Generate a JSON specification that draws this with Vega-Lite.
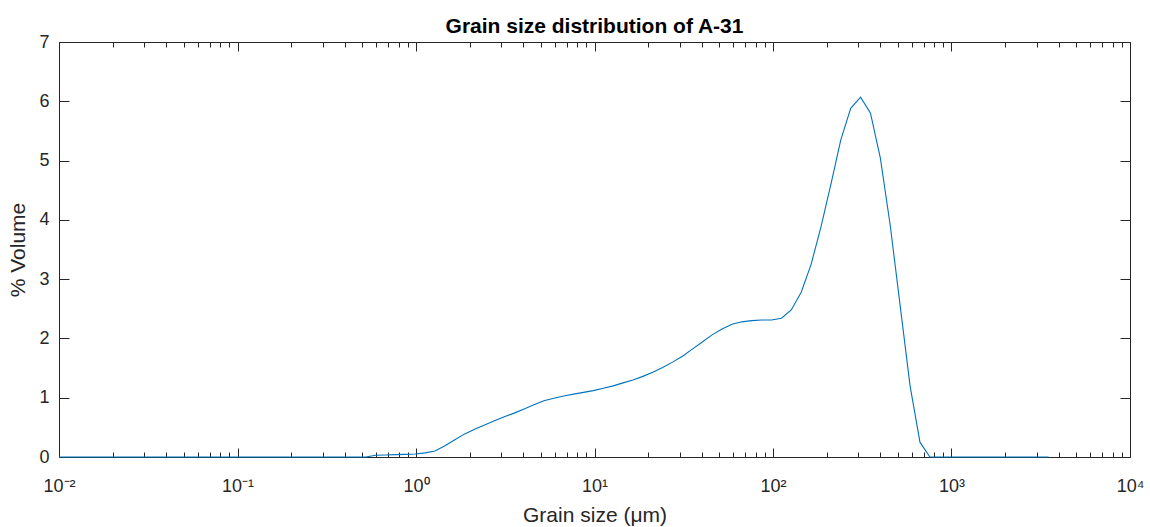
{
  "$schema": "https://vega.github.io/schema/vega-lite/v6.json",
  "width": 1071,
  "height": 415,
  "autosize": "none",
  "padding": {"left": 59, "top": 42, "right": 20, "bottom": 70},
  "background": "white",
  "config": {
    "view": {"stroke": null},
    "font": "Liberation Sans",
    "axis": {
      "grid": false,
      "domainColor": "#262626",
      "domainWidth": 1,
      "tickColor": "#262626",
      "tickWidth": 1,
      "labelColor": "#262626",
      "titleColor": "#262626",
      "labelFont": "Liberation Sans",
      "titleFont": "Liberation Sans",
      "labelFontSize": 18,
      "titleFontSize": 21,
      "titleFontWeight": "normal",
      "labelFlush": false,
      "labelOverlap": false
    }
  },
  "title": {
    "text": "Grain size distribution of A-31",
    "fontSize": 21,
    "fontWeight": "bold",
    "font": "Liberation Sans",
    "color": "#000000",
    "anchor": "middle",
    "frame": "group",
    "offset": -4
  },
  "data": {
    "values": [
      {"size": 0.01, "volume": 0},
      {"size": 0.5232, "volume": 0},
      {"size": 0.5943, "volume": 0.03},
      {"size": 0.6752, "volume": 0.035},
      {"size": 0.7674, "volume": 0.04},
      {"size": 0.8717, "volume": 0.045},
      {"size": 0.9904, "volume": 0.05},
      {"size": 1.1253, "volume": 0.07},
      {"size": 1.2787, "volume": 0.1},
      {"size": 1.4529, "volume": 0.19},
      {"size": 1.6508, "volume": 0.29},
      {"size": 1.875, "volume": 0.39},
      {"size": 2.1306, "volume": 0.47},
      {"size": 2.4207, "volume": 0.54},
      {"size": 2.7505, "volume": 0.61},
      {"size": 3.1249, "volume": 0.68},
      {"size": 3.5498, "volume": 0.74},
      {"size": 4.0344, "volume": 0.81},
      {"size": 4.5826, "volume": 0.88},
      {"size": 5.2084, "volume": 0.95},
      {"size": 5.9156, "volume": 0.99},
      {"size": 6.72, "volume": 1.03},
      {"size": 7.6367, "volume": 1.06},
      {"size": 8.676, "volume": 1.09},
      {"size": 9.858, "volume": 1.12},
      {"size": 11.2, "volume": 1.16},
      {"size": 12.72, "volume": 1.2},
      {"size": 14.46, "volume": 1.25},
      {"size": 16.43, "volume": 1.3},
      {"size": 18.66, "volume": 1.36},
      {"size": 21.2, "volume": 1.43},
      {"size": 24.09, "volume": 1.51},
      {"size": 27.37, "volume": 1.6},
      {"size": 31.1, "volume": 1.7},
      {"size": 35.33, "volume": 1.82},
      {"size": 40.14, "volume": 1.94},
      {"size": 45.6, "volume": 2.06},
      {"size": 51.82, "volume": 2.16},
      {"size": 58.87, "volume": 2.24},
      {"size": 66.9, "volume": 2.28},
      {"size": 76.0, "volume": 2.3},
      {"size": 86.35, "volume": 2.31},
      {"size": 98.1, "volume": 2.31},
      {"size": 111.5, "volume": 2.34},
      {"size": 126.6, "volume": 2.48},
      {"size": 143.9, "volume": 2.78},
      {"size": 163.5, "volume": 3.25},
      {"size": 185.7, "volume": 3.88},
      {"size": 211.0, "volume": 4.6},
      {"size": 239.8, "volume": 5.35},
      {"size": 272.4, "volume": 5.88},
      {"size": 309.5, "volume": 6.07},
      {"size": 351.7, "volume": 5.8},
      {"size": 399.5, "volume": 5.04},
      {"size": 454.0, "volume": 3.9},
      {"size": 515.8, "volume": 2.55},
      {"size": 586.0, "volume": 1.2},
      {"size": 665.8, "volume": 0.25},
      {"size": 756.5, "volume": 0},
      {"size": 3500, "volume": 0}
    ]
  },
  "layer": [
    {
      "mark": {"type": "line", "color": "#0072BD", "strokeWidth": 1.1},
      "encoding": {
        "x": {
          "field": "size",
          "type": "quantitative",
          "scale": {"type": "log", "domain": [0.01, 10000], "nice": false},
          "axis": {
            "orient": "bottom",
            "values": [0.01, 0.1, 1, 10, 100, 1000, 10000],
            "labelExpr": "datum.value == 0.01 ? '10⁻²' : datum.value == 0.1 ? '10⁻¹' : datum.value == 1 ? '10⁰' : datum.value == 10 ? '10¹' : datum.value == 100 ? '10²' : datum.value == 1000 ? '10³' : '10⁴'",
            "tickSize": -9,
            "labelPadding": 29,
            "title": "Grain size (μm)",
            "titlePadding": 9
          }
        },
        "y": {
          "field": "volume",
          "type": "quantitative",
          "scale": {"domain": [0, 7], "nice": false},
          "axis": {
            "orient": "left",
            "values": [0, 1, 2, 3, 4, 5, 6, 7],
            "tickSize": -10,
            "labelPadding": 20,
            "title": "% Volume",
            "titlePadding": 10
          }
        }
      }
    },
    {
      "mark": {"type": "line", "strokeOpacity": 0},
      "encoding": {
        "x": {
          "field": "size",
          "type": "quantitative",
          "axis": {
            "orient": "bottom",
            "values": [0.02, 0.03, 0.04, 0.05, 0.06, 0.07, 0.08, 0.09, 0.2, 0.3, 0.4, 0.5, 0.6, 0.7, 0.8, 0.9, 2, 3, 4, 5, 6, 7, 8, 9, 20, 30, 40, 50, 60, 70, 80, 90, 200, 300, 400, 500, 600, 700, 800, 900, 2000, 3000, 4000, 5000, 6000, 7000, 8000, 9000],
            "labels": false,
            "domain": false,
            "tickSize": -5,
            "title": null
          }
        },
        "y": {
          "field": "volume",
          "type": "quantitative",
          "axis": {
            "orient": "right",
            "values": [0, 1, 2, 3, 4, 5, 6, 7],
            "labels": false,
            "tickSize": -10,
            "title": null
          }
        }
      }
    },
    {
      "mark": {"type": "line", "strokeOpacity": 0},
      "encoding": {
        "x": {
          "field": "size",
          "type": "quantitative",
          "axis": {
            "orient": "top",
            "values": [0.01, 0.1, 1, 10, 100, 1000, 10000],
            "labels": false,
            "tickSize": -9,
            "title": null
          }
        },
        "y": {"field": "volume", "type": "quantitative", "axis": null}
      }
    },
    {
      "mark": {"type": "line", "strokeOpacity": 0},
      "encoding": {
        "x": {
          "field": "size",
          "type": "quantitative",
          "axis": {
            "orient": "top",
            "values": [0.02, 0.03, 0.04, 0.05, 0.06, 0.07, 0.08, 0.09, 0.2, 0.3, 0.4, 0.5, 0.6, 0.7, 0.8, 0.9, 2, 3, 4, 5, 6, 7, 8, 9, 20, 30, 40, 50, 60, 70, 80, 90, 200, 300, 400, 500, 600, 700, 800, 900, 2000, 3000, 4000, 5000, 6000, 7000, 8000, 9000],
            "labels": false,
            "domain": false,
            "tickSize": -5,
            "title": null
          }
        },
        "y": {"field": "volume", "type": "quantitative", "axis": null}
      }
    }
  ],
  "resolve": {"axis": {"x": "independent", "y": "independent"}}
}
